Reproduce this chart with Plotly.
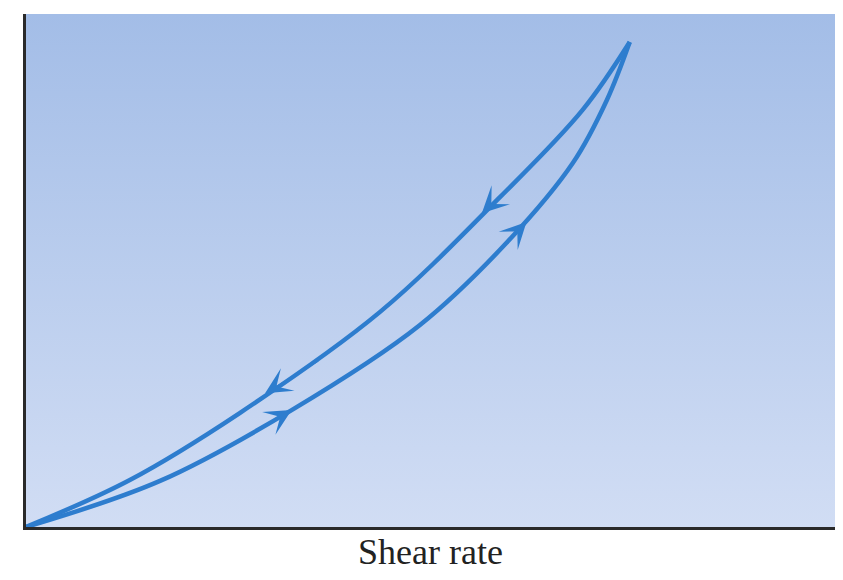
import plotly.graph_objects as go

# Shear rate / shear stress (normalised units)
# loading branch (lower curve, increasing shear rate)
up_x = [0.0, 0.222, 0.440, 0.652, 0.796, 0.906, 0.962, 1.0]
up_y = [0.0, 0.095, 0.241, 0.416, 0.586, 0.751, 0.880, 1.0]

# unloading branch (upper curve, decreasing shear rate)
down_x = [1.0, 0.922, 0.785, 0.586, 0.354, 0.172, 0.0]
down_y = [1.0, 0.860, 0.680, 0.443, 0.235, 0.097, 0.0]

# Arrow tips and their tails (direction markers)
arrow_tip_x = [0.755, 0.396, 0.829, 0.440]
arrow_tip_y = [0.647, 0.276, 0.629, 0.241]
arrow_tail_x = [0.829, 0.487, 0.757, 0.354]
arrow_tail_y = [0.736, 0.344, 0.536, 0.179]

x_range = [0.0, 1.34]
y_range = [0.0, 1.0577]

line_color = "#2e7dce"

fig = go.Figure()

# gradient background
fig.add_trace(go.Scatter(
    x=[x_range[0], x_range[1], x_range[1], x_range[0], x_range[0]],
    y=[y_range[0], y_range[0], y_range[1], y_range[1], y_range[0]],
    mode="lines", line=dict(width=0), fill="toself",
    fillgradient=dict(type="vertical",
                      colorscale=[[0, "#d1ddf4"], [1, "#a3bde7"]]),
    hoverinfo="skip", showlegend=False,
))

for xs, ys in [(up_x, up_y), (down_x, down_y)]:
    fig.add_trace(go.Scatter(
        x=xs, y=ys, mode="lines",
        line=dict(color=line_color, width=4.5, shape="spline", smoothing=1.0),
        showlegend=False, hoverinfo="skip",
    ))

for tx, ty, ax, ay in zip(arrow_tip_x, arrow_tip_y, arrow_tail_x, arrow_tail_y):
    fig.add_annotation(
        x=tx, y=ty, ax=ax, ay=ay, xref="x", yref="y", axref="x", ayref="y",
        showarrow=True, arrowhead=3, arrowsize=4.4, arrowwidth=1,
        arrowcolor=line_color, text="",
    )

fig.update_layout(
    width=827, height=564,
    margin=dict(l=18, r=0, t=6, b=45),
    paper_bgcolor="white", plot_bgcolor="white",
    xaxis=dict(range=x_range, showgrid=False, zeroline=False, showticklabels=False,
               ticks="", showline=True, linecolor="#2a2a2a", linewidth=3,
               title=dict(text="Shear rate",
                          font=dict(family="Liberation Serif", size=36, color="#222"),
                          standoff=10)),
    yaxis=dict(range=y_range, showgrid=False, zeroline=False, showticklabels=False,
               ticks="", showline=True, linecolor="#2a2a2a", linewidth=3),
)

fig.write_html("out.html")
